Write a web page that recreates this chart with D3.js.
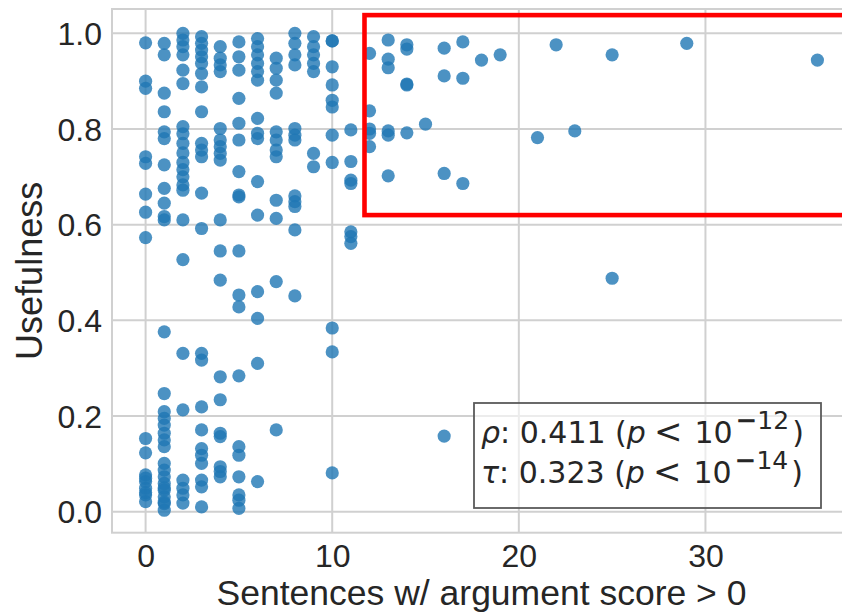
<!DOCTYPE html>
<html>
<head>
<meta charset="utf-8">
<script src="https://cdn.jsdelivr.net/npm/d3@7"></script>
<style>
  html, body { margin: 0; padding: 0; background: #fff; }
  svg { display: block; }
</style>
</head>
<body>
<svg id="chart" width="842" height="614"></svg>
<script>
// ---- data ----
const sentenceCounts = [0, 1, 2, 3, 4, 5, 6, 7, 8, 9, 10, 11, 12, 13, 14, 15, 16, 17, 18, 19, 21, 22, 23, 25, 29, 36];
const usefulnessByCount = [
  [0.980, 0.900, 0.885, 0.742, 0.728, 0.664, 0.626, 0.573, 0.153, 0.123, 0.077, 0.063, 0.049, 0.035, 0.021, 0.070, 0.040],
  [0.979, 0.955, 0.875, 0.836, 0.794, 0.780, 0.725, 0.676, 0.645, 0.617, 0.610, 0.376, 0.247, 0.209, 0.195, 0.181, 0.164, 0.150, 0.136, 0.101, 0.087, 0.073, 0.059, 0.045, 0.031, 0.017, 0.003, 0.020, 0.050],
  [1.000, 0.986, 0.972, 0.955, 0.923, 0.895, 0.805, 0.790, 0.770, 0.750, 0.730, 0.715, 0.700, 0.683, 0.672, 0.610, 0.527, 0.331, 0.213, 0.066, 0.049, 0.035, 0.018],
  [0.993, 0.979, 0.965, 0.951, 0.937, 0.916, 0.888, 0.836, 0.770, 0.756, 0.742, 0.666, 0.592, 0.331, 0.317, 0.219, 0.171, 0.132, 0.118, 0.101, 0.066, 0.052, 0.010],
  [0.972, 0.948, 0.934, 0.920, 0.801, 0.777, 0.763, 0.749, 0.735, 0.610, 0.545, 0.484, 0.282, 0.234, 0.164, 0.157, 0.094, 0.084, 0.073],
  [0.982, 0.951, 0.923, 0.864, 0.812, 0.777, 0.711, 0.662, 0.658, 0.545, 0.453, 0.428, 0.284, 0.136, 0.118, 0.073, 0.035, 0.024, 0.007],
  [0.989, 0.972, 0.955, 0.937, 0.920, 0.902, 0.822, 0.791, 0.780, 0.690, 0.620, 0.460, 0.404, 0.310, 0.063],
  [0.948, 0.927, 0.902, 0.875, 0.794, 0.777, 0.756, 0.742, 0.651, 0.613, 0.481, 0.171],
  [1.000, 0.979, 0.955, 0.934, 0.801, 0.787, 0.777, 0.660, 0.648, 0.638, 0.589, 0.451],
  [0.993, 0.972, 0.955, 0.937, 0.920, 0.749, 0.721],
  [0.984, 0.984, 0.930, 0.892, 0.860, 0.846, 0.787, 0.730, 0.384, 0.334, 0.081],
  [0.798, 0.732, 0.693, 0.686, 0.585, 0.575, 0.561],
  [0.958, 0.838, 0.800, 0.791, 0.763],
  [0.986, 0.946, 0.928, 0.796, 0.787, 0.702],
  [0.976, 0.967, 0.894, 0.892, 0.792],
  [0.810],
  [0.969, 0.911, 0.707, 0.158],
  [0.982, 0.906, 0.686],
  [0.944],
  [0.955],
  [0.782],
  [0.976],
  [0.796],
  [0.955, 0.488],
  [0.979],
  [0.944]
];
const xTicks = [0, 10, 20, 30];
const yTicks = [0.0, 0.2, 0.4, 0.6, 0.8, 1.0];
const xLabel = "Sentences w/ argument score > 0";
const yLabel = "Usefulness";
const statLines = [
  { sym: "ρ", val: "0.411", exp: "12" },
  { sym: "τ", val: "0.323", exp: "14" }
];
const highlight = { x0: 11.73, x1: 40, y0: 0.620, y1: 1.038 };

// ---- layout ----
const svg = d3.select("#chart");
const plot = { left: 112, right: 851, top: 9, bottom: 532.7 };
const x = d3.scaleLinear().domain([-1.8, 37.8]).range([plot.left, plot.right]);
const y = d3.scaleLinear().domain([-0.0439, 1.0508]).range([plot.bottom, plot.top]);

const points = [];
sentenceCounts.forEach((c, i) => usefulnessByCount[i].forEach(v => points.push({ c, v })));

const gridColor = "#d0d0d0";
const textColor = "#262626";

// grid
const g = svg.append("g");
g.selectAll("line.gx").data(xTicks).join("line")
  .attr("x1", d => x(d)).attr("x2", d => x(d))
  .attr("y1", plot.top).attr("y2", plot.bottom)
  .attr("stroke", gridColor).attr("stroke-width", 2);
g.selectAll("line.gy").data(yTicks).join("line")
  .attr("x1", plot.left).attr("x2", plot.right)
  .attr("y1", d => y(d)).attr("y2", d => y(d))
  .attr("stroke", gridColor).attr("stroke-width", 2);
// frame
g.append("rect")
  .attr("x", plot.left).attr("y", plot.top)
  .attr("width", plot.right - plot.left).attr("height", plot.bottom - plot.top)
  .attr("fill", "none").attr("stroke", gridColor).attr("stroke-width", 2);

// axes (labels only, seaborn whitegrid style)
const xAxis = d3.axisBottom(x).tickValues(xTicks).tickFormat(d3.format("d")).tickSize(0).tickPadding(10);
const yAxis = d3.axisLeft(y).tickValues(yTicks).tickFormat(d3.format(".1f")).tickSize(0).tickPadding(10);
const gx = svg.append("g").attr("transform", `translate(0,${plot.bottom})`).call(xAxis);
const gy = svg.append("g").attr("transform", `translate(${plot.left},0)`).call(yAxis);
[gx, gy].forEach(a => {
  a.select(".domain").remove();
  a.selectAll("text").attr("fill", textColor)
    .style("font-family", "'Liberation Sans', Arial, sans-serif").style("font-size", "32px");
});
gx.selectAll("text").attr("dy", null).attr("y", 34);
gy.selectAll("text").attr("x", -10).attr("dy", "0.35em");

// axis titles
svg.append("text")
  .attr("x", (plot.left + plot.right) / 2).attr("y", 605)
  .attr("text-anchor", "middle").attr("fill", textColor)
  .style("font-family", "'Liberation Sans', Arial, sans-serif").style("font-size", "35.5px")
  .text(xLabel);
svg.append("text")
  .attr("transform", `translate(42,${(plot.top + plot.bottom) / 2}) rotate(-90)`)
  .attr("text-anchor", "middle").attr("fill", textColor)
  .style("font-family", "'Liberation Sans', Arial, sans-serif").style("font-size", "36px")
  .text(yLabel);

// points
svg.append("g").selectAll("circle").data(points).join("circle")
  .attr("cx", d => x(d.c)).attr("cy", d => y(d.v)).attr("r", 6.6)
  .attr("fill", "#1f77b4").attr("fill-opacity", 0.8);

// highlight box
svg.append("rect")
  .attr("x", x(highlight.x0)).attr("y", y(highlight.y1))
  .attr("width", x(highlight.x1) - x(highlight.x0)).attr("height", y(highlight.y0) - y(highlight.y1))
  .attr("fill", "none").attr("stroke", "#ff0000").attr("stroke-width", 4.6);

// stats box
const box = { x: 474, y: 403, w: 347, h: 105 };
svg.append("rect")
  .attr("x", box.x).attr("y", box.y).attr("width", box.w).attr("height", box.h)
  .attr("fill", "#fff").attr("fill-opacity", 0.6)
  .attr("stroke", "#5a5a5a").attr("stroke-width", 1.8);
statLines.forEach((s, i) => {
  const t = svg.append("text")
    .attr("x", 481).attr("y", 443 + i * 40)
    .attr("fill", textColor)
    .style("font-family", "'DejaVu Sans', sans-serif").style("font-size", "30px");
  t.append("tspan").style("font-style", "italic").text(s.sym);
  t.append("tspan").text(": " + s.val + " (");
  t.append("tspan").style("font-style", "italic").text("p");
  t.append("tspan").attr("dx", 8).style("font-size", "34px").text("<");
  t.append("tspan").attr("dx", 12).text("10");
  t.append("tspan").attr("dx", 3).attr("dy", -14).style("font-size", "26px").style("font-weight", "bold").text("−");
  t.append("tspan").style("font-size", "25px").text(s.exp);
  t.append("tspan").attr("dx", 3).attr("dy", 14).text(")");
});
</script>
</body>
</html>
